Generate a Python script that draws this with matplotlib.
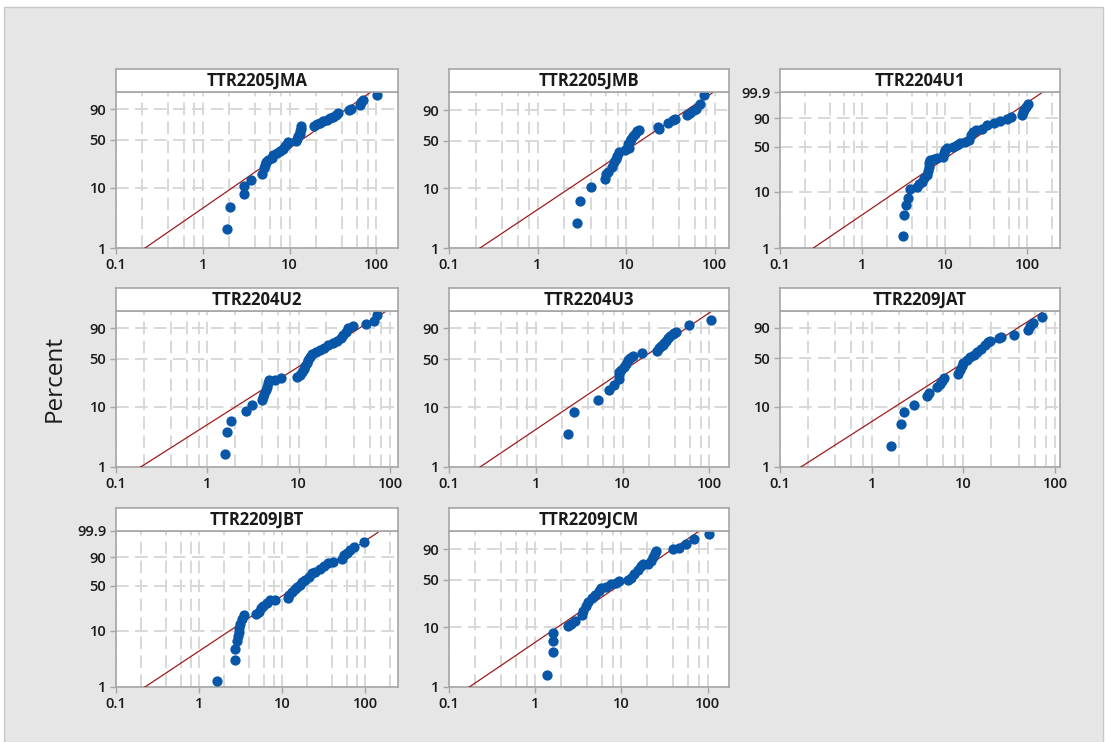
import numpy as np
import matplotlib
matplotlib.use('Agg')
import matplotlib.pyplot as plt
from matplotlib.patches import Rectangle
from matplotlib.ticker import FixedLocator, NullLocator, NullFormatter

plt.rcParams['font.family'] = ['Open Sans', 'DejaVu Sans']

# failure times (x) and plotted percent (y)
jma_time = [1.89, 2.03, 3.0, 3.0, 3.58, 4.8, 5.0, 5.2, 5.4, 5.7, 6.2, 6.5, 7.1, 7.8, 8.4,
            8.8, 9.2, 9.5, 11.9, 12.3, 12.6, 13.0, 13.2, 13.5, 13.6, 18.9, 20.5, 22.4, 24.4,
            26.6, 29.1, 31.7, 34.0, 36.5, 47.7, 50.8, 64.0, 67.0, 70.0, 101.0]
jma_pct = [2.1, 4.9, 8.1, 10.9, 13.6, 16.7, 20.6, 23.1, 25.0, 26.8, 28.9, 32.2, 34.0, 35.8,
           38.4, 41.7, 45.0, 47.7, 48.2, 51.2, 54.9, 58.7, 62.6, 66.0, 69.2, 70.2, 72.5, 74.3,
           76.2, 78.4, 80.1, 81.7, 83.7, 86.3, 89.0, 90.5, 93.2, 95.0, 96.2, 98.3]

jmb_time = [2.8, 3.0, 4.06, 5.7, 5.9, 6.2, 6.95, 7.3, 7.6, 7.9, 8.3, 9.66, 10.7, 10.5, 11.0,
            11.4, 12.0, 12.7, 13.3, 14.1, 23.3, 22.8, 29.5, 33.6, 35.6, 48.7, 52.2, 58.0,
            62.0, 68.9, 76.4]
jmb_pct = [2.63, 6.3, 10.7, 14.2, 17.0, 18.5, 21.6, 25.6, 28.6, 31.9, 35.5, 38.2, 40.6, 45.7,
           49.2, 52.4, 55.7, 59.5, 62.9, 65.4, 66.8, 69.2, 74.8, 78.4, 80.5, 85.3, 87.4, 89.7,
           91.2, 94.8, 98.4]

u1_time = [3.09, 3.2, 3.35, 3.62, 3.8, 4.57, 4.9, 5.26, 5.6, 6.0, 6.22, 6.35, 6.5, 6.64, 7.3,
           8.0, 9.64, 9.9, 10.1, 10.6, 12.7, 13.9, 15.3, 17.6, 19.4, 20.7, 21.9, 24.0, 28.1,
           32.4, 39.0, 47.0, 56.5, 63.4, 86.0, 88.0, 92.0, 96.0, 101.0]
u1_pct = [1.67, 3.96, 5.79, 7.99, 11.3, 12.3, 13.5, 15.0, 17.0, 19.3, 22.4, 26.2, 29.5, 33.0,
          33.8, 35.7, 36.9, 41.1, 45.6, 47.9, 50.3, 52.8, 55.2, 57.7, 60.3, 68.0, 72.9, 75.4,
          76.8, 82.2, 85.1, 87.0, 88.8, 90.7, 93.0, 95.0, 96.3, 97.5, 98.5]

u2_time = [1.56, 1.63, 1.82, 2.63, 3.11, 3.94, 4.1, 4.2, 4.35, 4.47, 4.6, 4.75, 5.5, 6.41,
           9.5, 10.4, 10.8, 11.3, 11.7, 12.2, 12.7, 13.2, 14.1, 15.5, 17.1, 18.9, 21.1, 24.0,
           26.5, 28.8, 30.8, 33.0, 34.8, 38.8, 54.2, 66.8, 72.6]
u2_pct = [1.68, 3.82, 5.96, 8.46, 10.6, 12.7, 14.3, 16.2, 18.6, 20.9, 23.5, 25.7, 26.3, 27.8,
          28.7, 31.0, 34.4, 37.4, 40.9, 44.2, 48.6, 53.2, 56.9, 60.2, 62.6, 65.9, 69.8, 73.0,
          75.8, 78.8, 82.9, 86.6, 89.9, 91.9, 93.1, 95.5, 97.9]

u3_time = [2.36, 2.77, 5.15, 7.0, 8.0, 9.07, 9.2, 9.0, 9.57, 10.3, 10.9, 11.6, 12.2, 13.0,
           16.6, 24.9, 26.4, 27.5, 28.9, 30.0, 31.6, 33.0, 35.0, 37.8, 39.5, 41.2, 58.7, 104.5]
u3_pct = [3.54, 8.4, 13.0, 18.3, 22.3, 27.1, 30.5, 33.7, 36.7, 39.8, 43.9, 48.3, 51.0, 53.8,
          58.6, 61.0, 65.8, 68.0, 70.6, 73.0, 75.3, 79.7, 81.5, 83.8, 85.3, 86.7, 92.5, 95.8]

jat_time = [1.63, 2.07, 2.27, 2.9, 4.05, 4.26, 5.12, 5.5, 5.8, 6.2, 8.67, 9.2, 9.6, 10.0,
            10.9, 11.8, 12.9, 14.2, 15.6, 17.2, 18.7, 19.5, 24.7, 25.5, 36.0, 50.4, 53.2,
            58.0, 71.6]
jat_pct = [2.23, 5.3, 8.25, 10.8, 14.7, 16.6, 20.5, 22.4, 25.1, 28.1, 32.0, 35.5, 40.1, 44.2,
           47.7, 52.2, 55.5, 59.3, 64.0, 68.8, 72.6, 74.0, 79.2, 80.5, 82.9, 87.7, 91.3,
           93.8, 97.0]

jbt_time = [1.66, 2.72, 2.72, 2.84, 2.92, 3.0, 3.06, 3.12, 3.27, 3.48, 4.82, 5.3, 5.5, 5.96,
            6.5, 7.2, 8.2, 11.9, 12.2, 13.1, 14.1, 15.0, 16.2, 17.3, 18.9, 20.8, 22.9, 25.0,
            28.7, 31.5, 36.1, 41.5, 52.3, 55.0, 60.1, 65.4, 73.6, 97.3]
jbt_pct = [1.27, 3.02, 4.87, 6.56, 8.0, 9.5, 11.1, 13.2, 15.8, 18.6, 19.4, 21.1, 23.9, 26.0,
           29.2, 32.0, 32.0, 33.9, 37.9, 42.1, 45.3, 48.1, 51.5, 56.4, 59.0, 64.1, 70.2, 71.7,
           75.1, 79.8, 83.3, 85.3, 87.9, 92.0, 93.9, 95.6, 97.0, 98.6]

jcm_time = [1.38, 1.62, 1.62, 1.62, 2.42, 2.62, 2.89, 3.46, 3.6, 3.85, 4.15, 4.52, 4.95, 5.5,
            5.75, 6.58, 7.5, 8.6, 9.4, 12.0, 12.9, 14.0, 15.4, 16.8, 18.0, 20.1, 21.9, 23.5,
            24.6, 25.1, 39.2, 46.0, 56.0, 70.0, 104.5]
jcm_pct = [1.58, 3.87, 5.92, 8.13, 10.7, 11.5, 12.6, 16.0, 18.1, 21.5, 24.7, 28.6, 31.9, 35.5,
           39.4, 40.6, 43.5, 45.6, 47.9, 48.7, 52.4, 57.1, 63.4, 69.2, 71.6, 71.6, 76.2, 81.8,
           86.4, 88.1, 89.7, 91.2, 94.2, 96.6, 98.5]

# fitted Weibull line ends (time, percent)
jma_fit = ([0.216, 86.7], [1.0, 98.9])
jmb_fit = ([0.224, 97.5], [1.0, 99.08])
u1_fit = ([0.254, 155.0], [1.0, 99.9])
u2_fit = ([0.186, 91.0], [1.0, 98.9])
u3_fit = ([0.228, 103.0], [1.0, 98.76])
jat_fit = ([0.169, 76.0], [1.0, 98.8])
jbt_fit = ([0.223, 142.0], [1.0, 99.85])
jcm_fit = ([0.172, 77.0], [1.0, 98.9])

names = ['TTR2205JMA', 'TTR2205JMB', 'TTR2204U1', 'TTR2204U2', 'TTR2204U3',
         'TTR2209JAT', 'TTR2209JBT', 'TTR2209JCM']
times = [jma_time, jmb_time, u1_time, u2_time, u3_time, jat_time, jbt_time, jcm_time]
pcts = [jma_pct, jmb_pct, u1_pct, u2_pct, u3_pct, jat_pct, jbt_pct, jcm_pct]
fits = [jma_fit, jmb_fit, u1_fit, u2_fit, u3_fit, jat_fit, jbt_fit, jcm_fit]
x_max = [177, 145, 250, 122, 168, 113, 248, 177]
y_max = [98.9, 99.08, 99.9, 98.9, 98.95, 98.8, 99.9, 99.08]

y_ticks = [1, 10, 50, 90, 99.9]
y_labels = ['1', '10', '50', '90', '99.9']
x_ticks = [0.1, 1, 10, 100]
x_labels = ['0.1', '1', '10', '100']


def wb_fwd(p):
    p = np.clip(np.asarray(p, dtype=float), 1e-6, 100 - 1e-9)
    return np.log(-np.log(1 - p / 100.0))


def wb_inv(w):
    return 100.0 * (1 - np.exp(-np.exp(w)))


W, H = 1105, 742
fig = plt.figure(figsize=(W / 100, H / 100), dpi=100)
fig.patch.set_facecolor('white')
fig.patches.append(Rectangle((4 / W, 0), 1099 / W, 1 - 7 / H, transform=fig.transFigure,
                             facecolor='#e6e6e6', edgecolor='#c8c8c8', lw=1, zorder=-10))

col_l = [116, 449, 780]
col_r = [398, 729, 1060]
row_t = [92, 311, 531]
row_b = [248, 467, 687]
strip_h = 23

frame_c = '#a6a6a6'
grid_c = '#d6d6d6'

for i in range(len(names)):
    r, c = i // 3, i % 3
    l, rr, t, b = col_l[c], col_r[c], row_t[r], row_b[r]
    ax = fig.add_axes([l / W, 1 - b / H, (rr - l) / W, (b - t) / H])
    ax.set_xscale('log')
    ax.set_yscale('function', functions=(wb_fwd, wb_inv))
    ax.set_xlim(0.1, x_max[i])
    ax.set_ylim(1, y_max[i])

    ax.xaxis.set_major_locator(FixedLocator(x_ticks))
    ax.set_xticklabels(x_labels)
    minors = [m * d for d in [0.1, 1, 10, 100] for m in [2, 4, 6, 8]]
    ax.xaxis.set_minor_locator(FixedLocator(minors))
    ax.xaxis.set_minor_formatter(NullFormatter())
    ax.yaxis.set_major_locator(FixedLocator(y_ticks))
    ax.set_yticklabels(y_labels)
    ax.yaxis.set_minor_locator(NullLocator())

    ax.grid(True, which='both', axis='x', color=grid_c, lw=1.3, dashes=(7, 3.5))
    ax.grid(True, which='major', axis='y', color=grid_c, lw=1.3, dashes=(7, 3.5))
    ax.set_axisbelow(True)

    ax.tick_params(axis='both', which='major', length=4.5, width=1, color=frame_c,
                   labelsize=10.5, labelcolor='#1a1a1a', pad=2.5)
    ax.tick_params(axis='x', which='minor', length=0)
    for lab in ax.get_xticklabels() + ax.get_yticklabels():
        lab.set_fontweight('semibold')
    for s in ax.spines.values():
        s.set_color(frame_c)
        s.set_linewidth(1.2)

    fx, fp = fits[i]
    ax.plot(fx, fp, color='#9c1c1c', lw=0.9, zorder=3)
    ax.plot(times[i], pcts[i], 'o', color='#0756a8', ms=7.4, mec='none', zorder=4,
            clip_on=False)

    sax = fig.add_axes([l / W, 1 - t / H, (rr - l) / W, strip_h / H])
    sax.set_xticks([])
    sax.set_yticks([])
    sax.set_facecolor('white')
    for s in sax.spines.values():
        s.set_color(frame_c)
        s.set_linewidth(1.2)
    sax.text(0.5, 0.48, names[i], ha='center', va='center', fontsize=12,
             fontweight='bold', color='#1a1a1a', transform=sax.transAxes)

fig.text(55 / W, 1 - 378 / H, 'Percent', rotation=90, ha='center', va='center',
         fontsize=17.5, color='#1a1a1a')

fig.savefig('out.png', dpi=100)
